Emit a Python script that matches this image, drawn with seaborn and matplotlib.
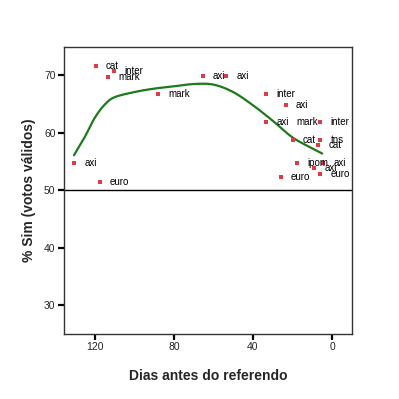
import matplotlib
matplotlib.use("Agg")
import matplotlib.pyplot as plt
import seaborn as sns
import pandas as pd
import numpy as np

# Data
days = [119.5, 110.5, 113.5, 130.5, 117.5, 88.0, 65.5, 53.5, 33.5, 23.5, 33.5,
        6.0, 6.0, 20.0, 6.0, 7.0, 18.0, 4.5, 9.0, 6.0, 26.0]
sim = [71.7, 70.7, 69.8, 54.7, 51.4, 66.8, 69.9, 69.9, 66.8, 64.9, 61.9,
       61.9, 61.9, 58.8, 58.8, 57.9, 54.7, 54.7, 53.9, 52.8, 52.3]
labels = ["cat", "inter", "mark", "axi", "euro", "mark", "axi", "axi", "inter", "axi", "axi",
          "mark", "inter", "cat", "tns", "cat", "ipom", "axi", "axi", "euro", "euro"]
label_side = ["r"] * 11 + ["l"] + ["r"] * 9

curve_days = [130.5, 125, 120, 115, 110, 100, 90, 80, 70, 60, 50, 40, 30, 20, 10, 5]
curve_sim = [56.1, 59.3, 62.6, 64.9, 66.2, 67.1, 67.7, 68.1, 68.5, 68.4,
             67.1, 64.8, 62.1, 59.2, 57.3, 56.4]

xticks = [120, 80, 40, 0]
yticks = [30, 40, 50, 60, 70]


def catmull_rom(xs, ys, n=12):
    p = np.column_stack([xs, ys]).astype(float)
    p = np.vstack([2 * p[0] - p[1], p, 2 * p[-1] - p[-2]])
    out = []
    t = np.linspace(0, 1, n, endpoint=False)[:, None]
    for i in range(1, len(p) - 2):
        p0, p1, p2, p3 = p[i - 1], p[i], p[i + 1], p[i + 2]
        seg = 0.5 * ((2 * p1) + (-p0 + p2) * t + (2 * p0 - 5 * p1 + 4 * p2 - p3) * t ** 2
                     + (-p0 + 3 * p1 - 3 * p2 + p3) * t ** 3)
        out.append(seg)
    out.append(p[-2][None, :])
    out = np.vstack(out)
    return out[:, 0], out[:, 1]


cx, cy = catmull_rom(curve_days, curve_sim)
pts = pd.DataFrame({"dias": days, "sim": sim, "lab": labels})
crv = pd.DataFrame({"dias": cx, "sim": cy})

sns.set_style("white")
plt.rcParams["font.family"] = ["Liberation Sans", "DejaVu Sans"]

fig = plt.figure(figsize=(3.99, 3.99), dpi=100)
ax = fig.add_axes([0.160, 0.163, 0.722, 0.720])

ax.axhline(50, color="black", lw=1.0, zorder=1)
sns.lineplot(data=crv, x="dias", y="sim", ax=ax, color="#1c7a1c", lw=1.6, sort=False, zorder=2)
sns.scatterplot(data=pts, x="dias", y="sim", ax=ax, marker="s", s=9, color="#e03a46",
                linewidth=0, zorder=3)

for d, v, t, side in zip(days, sim, labels, label_side):
    if side == "r":
        ax.annotate(t, (d, v), xytext=(7.5, 0), textcoords="offset points",
                    ha="left", va="center", fontsize=7, color="black", zorder=4)
    else:
        ax.annotate(t, (d, v), xytext=(-1.5, 0), textcoords="offset points",
                    ha="right", va="center", fontsize=7, color="black", zorder=4)

ax.set_xlim(135.6, -10)
ax.set_ylim(25, 75)
ax.set_xticks(xticks)
ax.set_yticks(yticks)
ax.set_xticklabels([str(t) for t in xticks])
ax.set_yticklabels([str(t) for t in yticks])
ax.tick_params(axis="both", direction="out", length=4, width=1.6, labelsize=7.5,
               color="black", pad=2, bottom=True, left=True)

for s in ax.spines.values():
    s.set_color("#333333")
    s.set_linewidth(1.0)

ax.set_xlabel("Dias antes do referendo", fontsize=10, fontweight="bold", labelpad=12)
ax.set_ylabel("% Sim (votos válidos)", fontsize=10, fontweight="bold", labelpad=6)

fig.savefig("out.png", dpi=100, facecolor="white")
